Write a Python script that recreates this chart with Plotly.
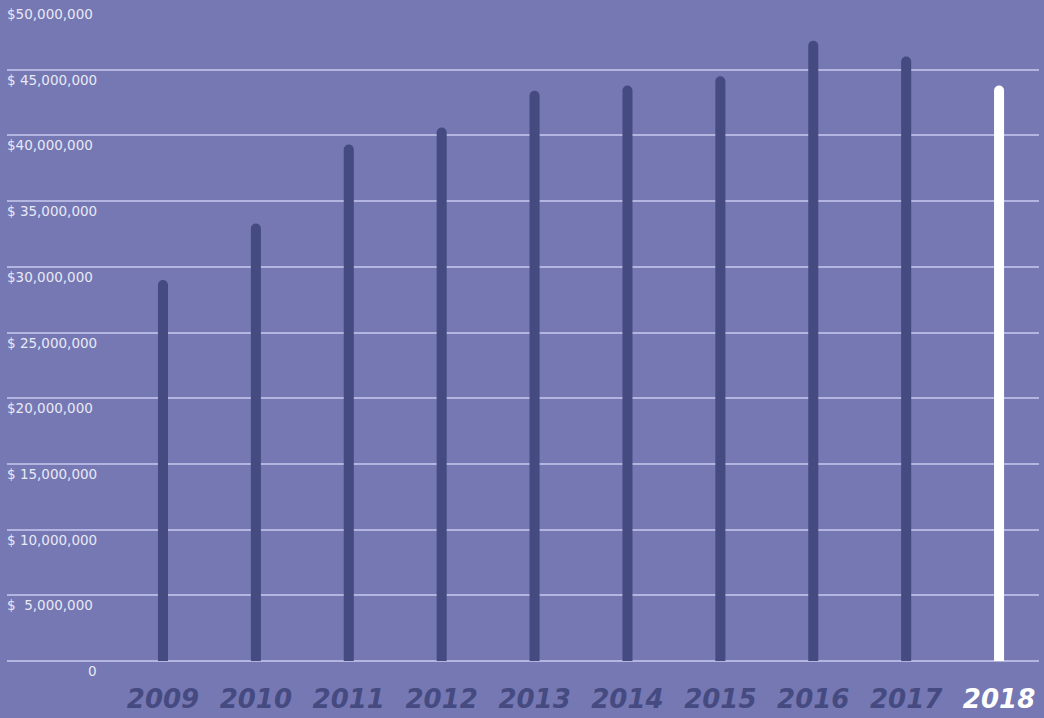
import plotly.graph_objects as go

years = ["2009", "2010", "2011", "2012", "2013", "2014", "2015", "2016", "2017", "2018"]
values = [29.0e6, 33.3e6, 39.3e6, 40.6e6, 43.4e6, 43.8e6, 44.5e6, 47.2e6, 46.0e6, 43.8e6]
tick_values = [0, 5e6, 10e6, 15e6, 20e6, 25e6, 30e6, 35e6, 40e6, 45e6, 50e6]
tick_labels = ["0", "$  5,000,000", "$ 10,000,000", "$ 15,000,000", "$20,000,000",
               "$ 25,000,000", "$30,000,000", "$ 35,000,000", "$40,000,000",
               "$ 45,000,000", "$50,000,000"]

BG = "#7578b3"
BAR = "#454a80"
HIGHLIGHT = "#ffffff"
GRID = "#b3b5e0"
LABEL = "#e8e8f6"

xs = list(range(len(years)))
colors = [BAR] * (len(years) - 1) + [HIGHLIGHT]

fig = go.Figure()
fig.add_trace(go.Bar(
    x=xs, y=values, width=0.108,
    marker=dict(color=colors, line=dict(width=0), cornerradius="50%"),
    hoverinfo="skip",
))

ticktext = []
for i, y in enumerate(years):
    if i == len(years) - 1:
        ticktext.append(f"<span style='color:{HIGHLIGHT}'><b><i>{y}</i></b></span>")
    else:
        ticktext.append(f"<b><i>{y}</i></b>")

annotations = []
for v, t in zip(tick_values, tick_labels):
    left = t.startswith("$")
    annotations.append(dict(x=0 if left else 0.0895, xref="paper",
                            xanchor="left" if left else "right",
                            xshift=-2 if left else 0,
                            y=v, yref="y", yanchor="top", yshift=0,
                            text=t, showarrow=False,
                            font=dict(family="DejaVu Sans", size=13.5, color=LABEL)))

fig.update_layout(
    width=1044, height=718,
    margin=dict(l=7, r=5, t=4, b=57),
    paper_bgcolor=BG, plot_bgcolor=BG,
    showlegend=False,
    annotations=annotations,
    xaxis=dict(range=[-1.679, 9.43], tickmode="array", tickvals=xs, ticktext=ticktext,
               showgrid=False, zeroline=False, showline=False, ticks="",
               tickfont=dict(family="DejaVu Sans", size=26, color=BAR),
               ticklabelstandoff=20),
    yaxis=dict(range=[0, 50e6], tickmode="array", tickvals=tick_values,
               showticklabels=False, showgrid=True, gridcolor=GRID, gridwidth=1.5,
               zeroline=True, zerolinecolor=GRID, zerolinewidth=1.5, showline=False),
)

fig.write_html("out.html")
